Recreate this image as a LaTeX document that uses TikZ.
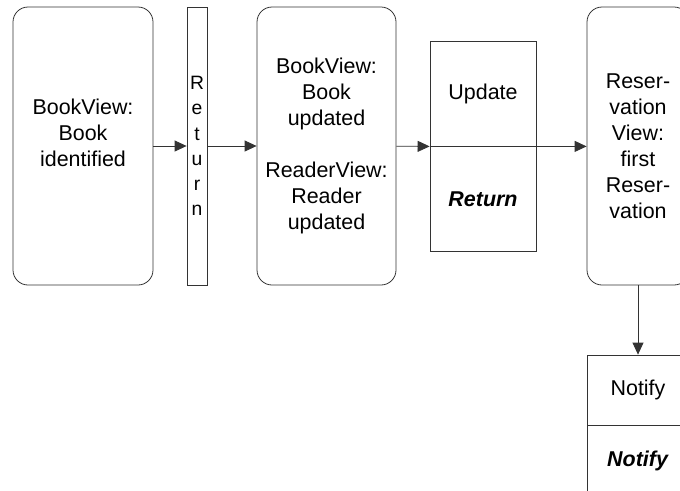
\documentclass[tikz,border=0pt]{standalone}
\usepackage{fontspec}
\setmainfont{Liberation Sans}
\usetikzlibrary{arrows.meta,positioning}

\begin{document}
\begin{tikzpicture}[font=\fontsize{12.2}{14.8}\selectfont,line width=0.45pt,every text node part/.style={align=center},
	view/.style={draw=black!80,rounded corners=0.3cm,minimum width=2.8cm,minimum height=5.56cm,inner sep=0pt},
	op/.style={draw=black!80,minimum width=2.12cm,minimum height=2.1cm,inner sep=0pt},
	flow/.style={draw=black!80,-{Triangle[length=2.4mm,width=2.2mm]}}]
	\useasboundingbox (0,0) rectangle (13.6,9.8);
	\clip (0,0) rectangle (13.6,9.8);

	\node (bookid) at (1.66,6.88) [view] {BookView:\\Book\\identified\\\mbox{}};
	\node (retstrip) at (3.94,6.88) [draw=black!80,minimum width=0.4cm,minimum height=5.56cm,inner sep=0pt,font=\fontsize{11}{14.4}\selectfont] {R\\e\\t\\u\\r\\n};
	\node (bookupd) at (6.53,6.88) [view,minimum width=2.78cm] {BookView:\\Book\\updated\\[14.8pt]ReaderView:\\Reader\\updated};

	\node (upd) at (9.66,7.93) [op] {Update};
	\node (retop) [op,below=0pt of upd] {\textbf{\textit{Return}}};

	\node (firstres) at (12.76,6.88) [view,minimum width=2.04cm] {Reser-\\vation\\View:\\first\\Reser-\\vation};
	\node (notify) at (12.76,2.0) [op,minimum width=2.04cm,minimum height=1.4cm] {Notify};
	\node (notifyop) [op,minimum width=2.04cm,minimum height=1.4cm,below=0pt of notify] {\textbf{\textit{Notify}}};

	\draw[flow] (bookid) -- (retstrip);
	\draw[flow] (retstrip) -- (bookupd);
	\draw[flow] (bookupd) -- (upd.south west);
	\draw[flow] (upd.south east) -- (upd.south east -| firstres.west);
	\draw[flow] (firstres) -- (notify);
\end{tikzpicture}
\end{document}
